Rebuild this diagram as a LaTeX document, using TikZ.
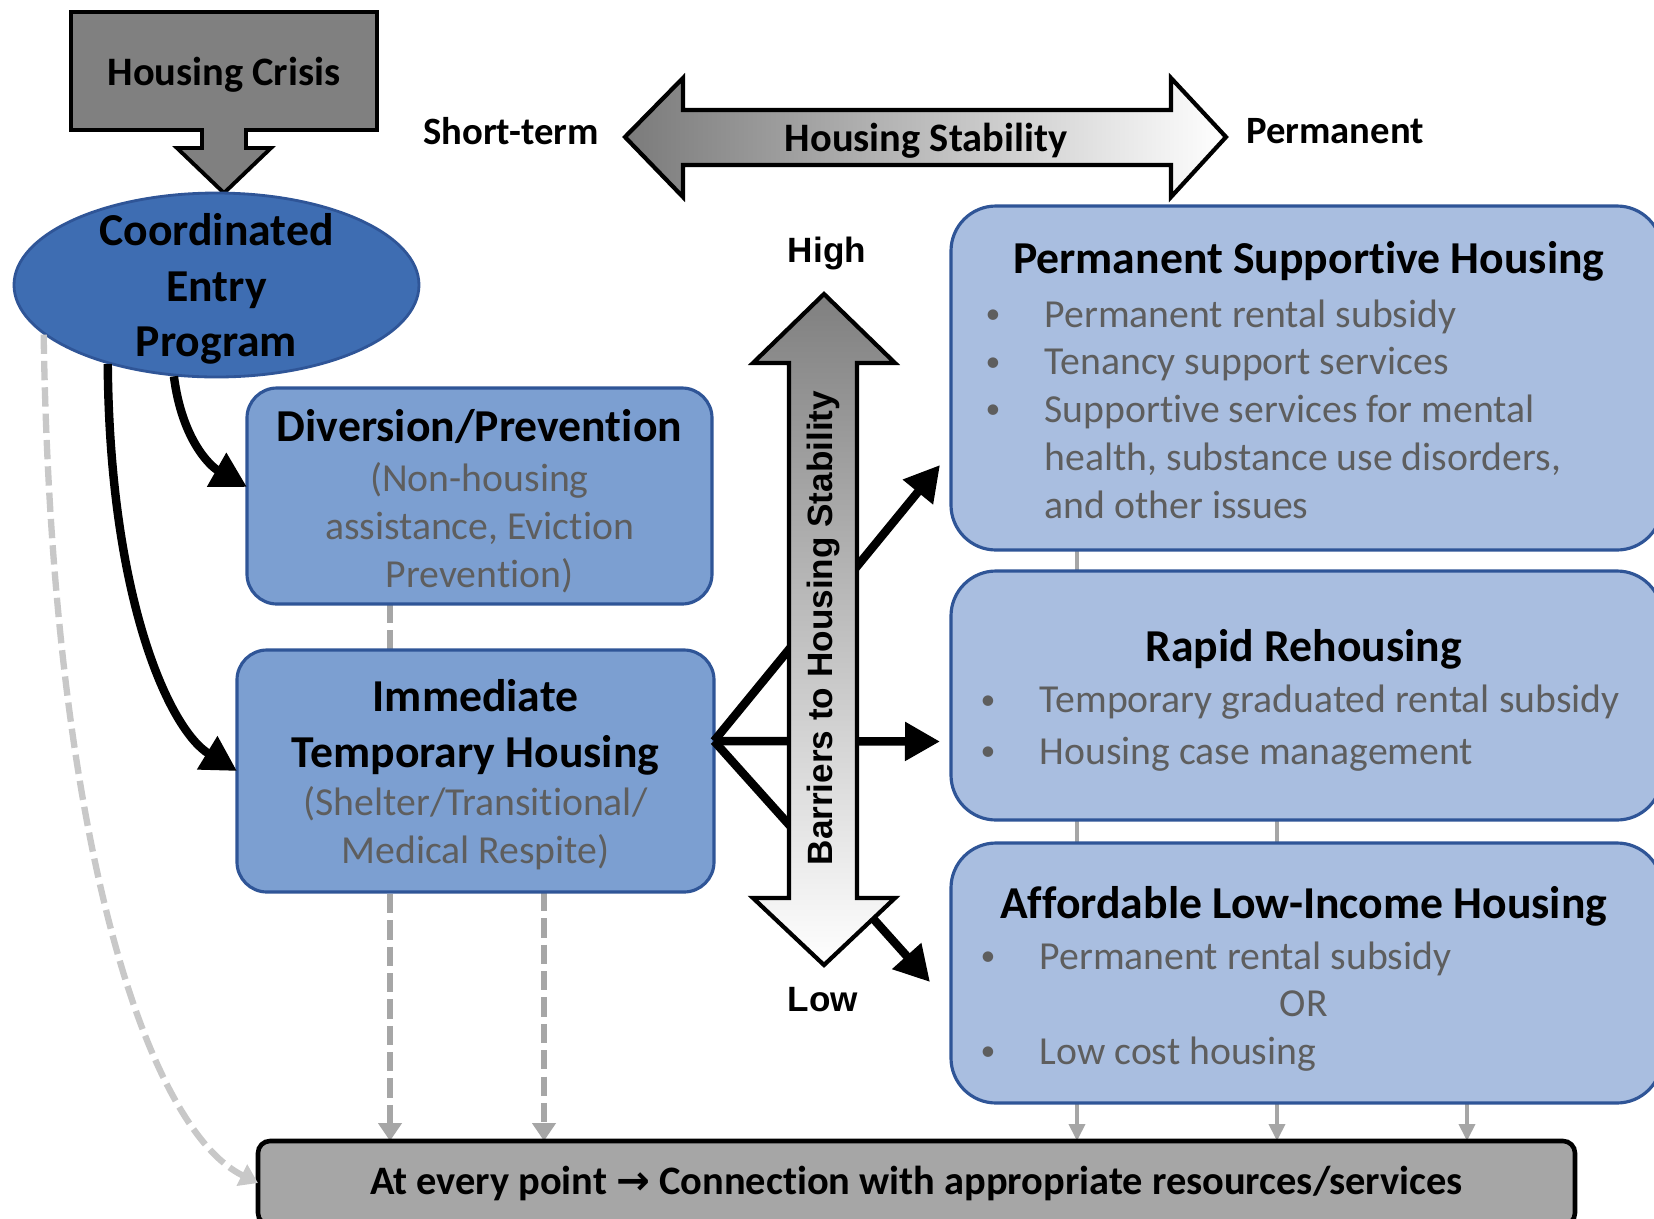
\documentclass[tikz,border=0pt]{standalone}
\usepackage{fontspec}
\setmainfont{Carlito}[RawFeature={-liga;-dlig;-calt}]
\newfontfamily\arialfont{Liberation Sans}
\newfontfamily\symfont{DejaVu Sans}
\usepackage{xcolor}
\usepackage{tikz}
\usetikzlibrary{positioning,arrows.meta,shapes.geometric,calc,backgrounds}

\definecolor{cepblue}{HTML}{3E6DB2}
\definecolor{boxblue}{HTML}{7C9FD1}
\definecolor{lightblue}{HTML}{A9BEE0}
\definecolor{edgeblue}{HTML}{2F5597}
\definecolor{txtgray}{HTML}{5E5E5E}
\definecolor{crisisgray}{HTML}{808080}
\definecolor{botgray}{HTML}{A6A6A6}
\definecolor{lnkgray}{HTML}{A6A6A6}
\definecolor{curvgray}{HTML}{C8C8C8}

\newcommand{\ttlfont}{\fontsize{13}{15.9}\selectfont\bfseries}
\newcommand{\txtfont}{\fontsize{11.3}{13.6}\selectfont}
\newcommand{\bul}[1]{\makebox[5.3mm][l]{\hspace{-0.6mm}\raisebox{0.2ex}{\scalebox{0.75}{\textbullet}}}#1}
\newcommand{\ind}{\makebox[5.3mm]{}}
\newcommand{\boxttl}[1]{\makebox[63.4mm][c]{\ttlfont\color{black}#1}}

\tikzset{
  crisis/.style = {minimum width=30.6mm, minimum height=11.8mm, outer sep=0pt, text depth=0pt,
                   font=\fontsize{11.5}{14}\selectfont\bfseries},
  cep/.style    = {ellipse, draw=edgeblue, line width=0.8pt, fill=cepblue,
                   minimum width=40.5mm, minimum height=18.4mm, inner sep=0pt},
  ceptxt/.style = {align=center, inner sep=0pt, font=\fontsize{13}{15.7}\selectfont\bfseries},
  lbox/.style   = {draw=edgeblue, line width=0.9pt, fill=boxblue, rounded corners=3mm, outer sep=0pt},
  rbox/.style   = {draw=edgeblue, line width=0.9pt, fill=lightblue, rounded corners=4.5mm,
                   minimum width=71.1mm, outer sep=0pt},
  ltxt/.style   = {align=center, inner sep=0pt, font=\txtfont, text=txtgray},
  ptxt/.style   = {align=left, inner sep=0pt, anchor=west, font=\txtfont, text=txtgray},
  botbox/.style = {draw, line width=1.3pt, fill=botgray, rounded corners=1.2mm,
                   minimum width=131.7mm, minimum height=8.4mm, outer sep=0pt,
                   font=\fontsize{11.5}{14}\selectfont\bfseries},
  lbl/.style    = {font=\fontsize{11}{13}\selectfont\bfseries, inner sep=1pt},
  axl/.style    = {font=\arialfont\fontsize{10}{12}\selectfont\bfseries, inner sep=1pt},
  flow/.style   = {line width=2.4pt, -{Triangle[length=3.5mm,width=3.7mm]}},
  dsh/.style    = {draw=lnkgray, line width=1.8pt, dash pattern=on 5.5pt off 2pt},
  dar/.style    = {dsh, -{Triangle[length=1.8mm,width=2.3mm]}},
  gar/.style    = {draw=lnkgray, line width=1.1pt, -{Triangle[length=1.7mm,width=1.6mm]}},
}

\begin{document}
\begin{tikzpicture}[x=0.1mm, y=-0.1mm]
  \useasboundingbox (0,0) rectangle (1654,1219);

  % top: crisis and entry
  \node[crisis] (crisis) at (224,71) {Housing Crisis};
  \node[cep] (cep) at (216.5,285) {};
  \node[ceptxt] (ceptxt) at ($(cep.center)+(0,4)$) {Coordinated\\Entry\\Program};

  % housing stability scale
  \shadedraw[line width=1.2pt, left color=black!52, right color=white]
    (625,137) -- (683,78) -- (683,110) -- (1171,110) -- (1171,78) -- (1226,137)
    -- (1171,197) -- (1171,165) -- (683,165) -- (683,197) -- cycle;
  \node[lbl, font=\fontsize{11.5}{14}\selectfont\bfseries] (stab) at (926,141) {Housing Stability};
  \node[lbl] (short) at (511,131) {Short-term};
  \node[lbl] (perm) at (1335,131) {Permanent};

  % program boxes
  \node[lbox, minimum width=46.5mm, minimum height=21.6mm] (div) at (479.5,496) {};
  \node[ltxt] (divtxt) at ($(div.center)+(0,5)$)
       {{\ttlfont\color{black}Diversion/Prevention}\\[0.6pt]
        (Non-housing\\ assistance, Eviction\\ Prevention)};
  \node[lbox, minimum width=47.7mm, minimum height=24.2mm] (imm) at (475.5,771) {};
  \node[ltxt] (immtxt) at ($(imm.center)+(0,3.5)$)
       {{\ttlfont\color{black}Immediate}\\[2.3pt]
        {\ttlfont\color{black}Temporary Housing}\\[0.1pt]
        (Shelter/Transitional/\\ Medical Respite)};
  \node[rbox, minimum height=34.4mm] (psh) at (1306.5,378) {};
  \node[ptxt] (pshtxt) at ($(psh.west)+(40,2)$)
       {\boxttl{Permanent Supportive Housing}\\[1.7pt]
        \bul{Permanent rental subsidy}\\
        \bul{Tenancy support services}\\
        \bul{Supportive services for mental}\\
        \ind health, substance use disorders,\\
        \ind and other issues};
  \node[rbox, minimum height=24.9mm] (rr) at (1306.5,695.5) {};
  \node[ptxt] (rrtxt) at ($(rr.west)+(35,5)$)
       {\boxttl{Rapid Rehousing}\\[1pt]
        \bul{Temporary graduated rental subsidy}\\[1.1pt]
        \bul{Housing case management}};
  \node[rbox, minimum height=26mm] (alih) at (1306.5,973) {};
  \node[ptxt] (alihtxt) at ($(alih.west)+(35,6)$)
       {\boxttl{Affordable Low-Income Housing}\\[0.8pt]
        \bul{Permanent rental subsidy}\\
        \makebox[63.4mm][c]{OR}\\
        \bul{Low cost housing}};
  \node[botbox] (bot) at (916.5,1183)
       {At every point {\symfont\bfseries →} Connection with appropriate resources/services};

  \begin{scope}[on background layer]
    \draw[line width=1.1pt, fill=crisisgray] (crisis.north west) -- (crisis.north east)
      -- (crisis.south east) -- ($(crisis.south)+(22,0)$) -- ++(0,18) -- ++(25,0)
      -- ($(crisis.south)+(0,63)$) -- ++(-47,-45) -- ++(25,0) -- ++(0,-18)
      -- (crisis.south west) -- cycle;
    \draw[dar] ($(div.south west)+(143,0)$) coordinate (d1) -- (d1 |- bot.north);
    \draw[dar] ($(imm.south west)+(307,0)$) coordinate (d2) -- (d2 |- bot.north);
    \draw[gar] ($(psh.south west)+(126,0)$) coordinate (g1) -- (g1 |- bot.north);
    \draw[gar] ($(rr.south west)+(326,0)$) coordinate (g2) -- (g2 |- bot.north);
    \draw[gar] ($(alih.south west)+(516,0)$) coordinate (g3) -- (g3 |- bot.north);
  \end{scope}

  % entry paths
  \draw[dar, draw=curvgray] (cep.196) .. controls +(8,515) and +(-108,-53) .. (bot.west);
  \draw[flow] (cep.216) .. controls +(2,237) and +(-67,-41) .. (imm.west);
  \draw[flow] (cep.245) .. controls +(8,63) and +(-37,-21) .. ($(div.west)+(0,-9)$);

  % exits to permanent housing
  \coordinate (fork) at ($(imm.east)+(0,-30)$);
  \draw[flow] (fork) -- ($(psh.west)+(-11,87)$);
  \draw[flow] (fork) -- ($(rr.west)+(-11,46)$);
  \draw[flow] (fork) -- ($(alih.west)+(-21,9)$);

  % barriers scale
  \shadedraw[line width=1.2pt, top color=black!50, bottom color=white]
    (824,294) -- (895,363) -- (857,363) -- (857,898) -- (895,898) -- (824,965)
    -- (753,898) -- (789,898) -- (789,363) -- (753,363) -- cycle;
  \node[axl, rotate=90] (barr) at (823,628) {Barriers to Housing Stability};
  \node[axl] (high) at (827,253) {High};
  \node[axl] (low) at (823,1000) {Low};
\end{tikzpicture}
\end{document}
